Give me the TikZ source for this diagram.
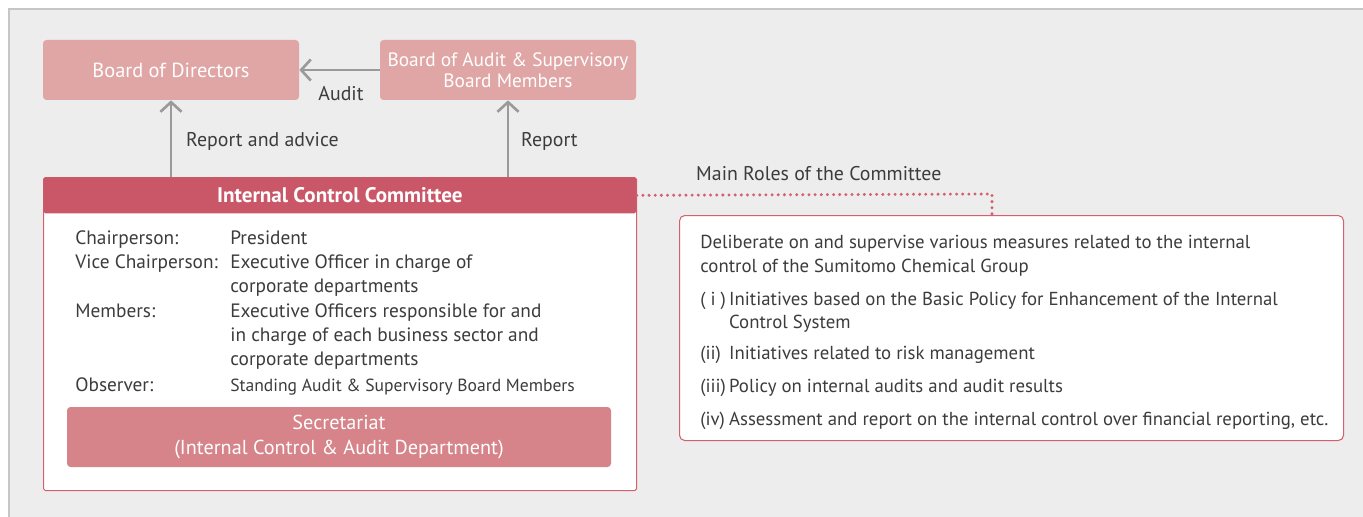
\documentclass[tikz,border=0pt]{standalone}
\usepackage{fontspec}
\setmainfont{PT Sans}
\usetikzlibrary{arrows.meta,positioning}
\definecolor{bgGray}{HTML}{EDEDED}
\definecolor{frameGray}{HTML}{C6C6C6}
\definecolor{boardPink}{HTML}{E0A5A5}
\definecolor{arrGray}{HTML}{9A9A9A}
\definecolor{hdrRed}{HTML}{C95767}
\definecolor{lineRed}{HTML}{D4606E}
\definecolor{secPink}{HTML}{D6848A}
\definecolor{txtGray}{HTML}{3C3C3C}
\tikzset{every node/.style={font=\fontsize{11}{13.8}\selectfont, text=txtGray},
  board/.style={fill=boardPink, rounded corners=2pt, minimum width=256*0.02cm, minimum height=60*0.02cm,
    align=center, text=white, font=\fontsize{11}{12}\selectfont},
  lbl/.style={font=\fontsize{11.3}{13}\selectfont},
  arr/.style={draw=arrGray, line width=1.7pt, -{Straight Barb[length=5.5pt,width=12pt,line width=1.5pt]}},
  dotline/.style={draw=lineRed, line width=1.8pt, dash pattern=on 0.1pt off 3.4pt, line cap=round}}

\begin{document}
\begin{tikzpicture}[x=0.02cm, y=-0.02cm]
  \useasboundingbox (0,0) rectangle (1363,517);
  % background panel
  \fill[bgGray] (9,9) rectangle (1363,517);
  \draw[frameGray, line width=0.8pt] (9,517) -- (9,9) -- (1363,9);

  % boards
  \node[board, font=\fontsize{11.6}{12}\selectfont] (dir) at (171,70) {Board of Directors};
  \node[board] (aud) at (508,70) {Board of Audit \& Supervisory\\Board Members};

  % committee
  \node[draw=lineRed, fill=white, line width=0.6pt, minimum width=593*0.02cm, minimum height=313*0.02cm,
    anchor=north west, inner sep=0pt, rounded corners=1pt] (ctee) at (43,177) {};
  \node[fill=hdrRed, minimum width=593*0.02cm, minimum height=36*0.02cm, anchor=north west,
    rounded corners=1pt, text=white, font=\fontsize{12}{13}\selectfont\bfseries] (hdr) at (43,177)
    {Internal Control Committee};
  \node[anchor=north west, inner sep=0pt] (members) at (75,227) {%
    \begin{tabular}{@{}p{155\dimexpr0.02cm\relax}@{}l@{}}
      Chairperson: & President\\
      Vice Chairperson: & Executive Officer in charge of\\
      & corporate departments\\
      Members: & Executive Officers responsible for and\\
      & in charge of each business sector and\\
      & corporate departments\\[1pt]
      Observer: & {\fontsize{10}{12}\selectfont Standing Audit \& Supervisory Board Members}
    \end{tabular}};
  \node[fill=secPink, rounded corners=2pt, minimum width=544*0.02cm, minimum height=60*0.02cm,
    align=center, text=white, font=\fontsize{11.5}{14.5}\selectfont] (sec) at (339,437)
    {Secretariat\\(Internal Control \& Audit Department)};

  % arrows
  \draw[arr] (dir.south |- hdr.north) -- (dir.south);
  \draw[arr] (aud.south |- hdr.north) -- (aud.south);
  \draw[arr] (aud.west) -- (dir.east);
  \node[lbl, anchor=west] (lblAdv) at (180,141) {Report and advice};
  \node[lbl, anchor=west] (lblRep) at (515,141) {Report};
  \node[lbl] (lblAud) at (341,94) {Audit};

  % main roles
  \node[draw=lineRed, fill=white, line width=0.6pt, rounded corners=3pt, minimum width=664*0.02cm,
    minimum height=225*0.02cm, anchor=north west, inner sep=0pt] (roles) at (679,215) {};
  \node[anchor=north west, inner sep=0pt, font=\fontsize{10.7}{13.3}\selectfont] (rolesTxt) at (700,232) {%
    \begin{tabular}{@{}l@{\,}l@{}}
      \multicolumn{2}{@{}l@{}}{Deliberate on and supervise various measures related to the internal}\\
      \multicolumn{2}{@{}l@{}}{control of the Sumitomo Chemical Group}\\[5.5pt]
      ( i ) & Initiatives based on the Basic Policy for Enhancement of the Internal\\
      & Control System\\[4.5pt]
      (ii) & Initiatives related to risk management\\[5.5pt]
      (iii) & Policy on internal audits and audit results\\[5.5pt]
      (iv) & Assessment and report on the internal control over financial reporting, etc.
    \end{tabular}};
  \node[lbl, anchor=west] (rolesLbl) at (690,174) {Main Roles of the Committee};
  \coordinate (bend) at (992,194);
  \draw[dotline] (hdr.east) -- (bend) -- (bend |- roles.north);
\end{tikzpicture}
\end{document}
